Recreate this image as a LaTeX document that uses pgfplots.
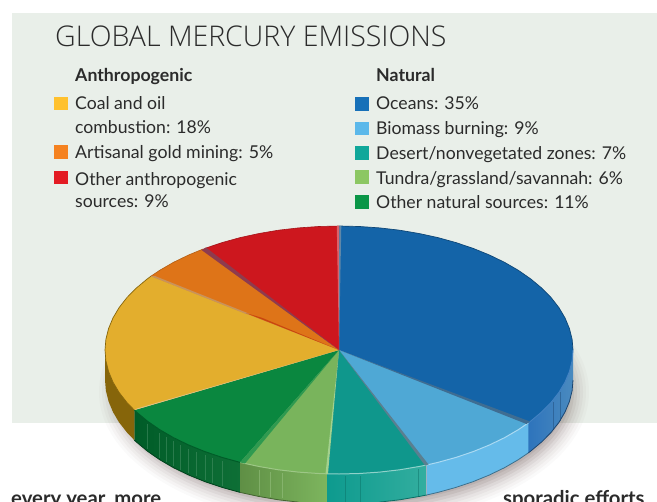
\documentclass[border=0pt]{standalone}
\usepackage{pgfplots}
\pgfplotsset{compat=1.18}
\usepackage{fontspec}
\setmainfont{Lato}
\newfontfamily\lightf{Open Sans Light}
\definecolor{panel}{HTML}{E9EFE9}
\definecolor{txt}{HTML}{2B2B2B}
\definecolor{shad}{HTML}{6E5A58}
\definecolor{wO1}{HTML}{2E74BC}\definecolor{wO2}{HTML}{4A8ABF}
\definecolor{wB}{HTML}{65BBEA}
\definecolor{wD1}{HTML}{0D9A8E}\definecolor{wD2}{HTML}{33AE9F}
\definecolor{wT1}{HTML}{5F8F45}\definecolor{wT2}{HTML}{7DB55E}
\definecolor{wN1}{HTML}{005C28}\definecolor{wN2}{HTML}{0E6F36}
\definecolor{wC}{HTML}{86650A}
\definecolor{tO}{HTML}{1464A8}\definecolor{tB}{HTML}{4FA8D5}\definecolor{tD}{HTML}{0F978C}
\definecolor{tT}{HTML}{79B45C}\definecolor{tN}{HTML}{0A873F}\definecolor{tC}{HTML}{E3AE2D}
\definecolor{tG}{HTML}{DE7418}\definecolor{tA}{HTML}{CD171E}
\definecolor{lC}{HTML}{FFC12E}\definecolor{lG}{HTML}{F58220}\definecolor{lA}{HTML}{E31B23}
\definecolor{lO}{HTML}{1770B8}\definecolor{lB}{HTML}{5BB8EA}\definecolor{lD}{HTML}{10A79A}
\definecolor{lT}{HTML}{8CC763}\definecolor{lN}{HTML}{0A9647}
\definecolor{bA}{HTML}{3F6D92}\definecolor{bB}{HTML}{5A7F90}\definecolor{bC}{HTML}{A3D18E}
\definecolor{bD}{HTML}{2F9A50}\definecolor{bE}{HTML}{DDC48E}\definecolor{bF}{HTML}{C9935A}
\definecolor{bG}{HTML}{C8460F}\definecolor{bH}{HTML}{8E3B4E}\definecolor{bI}{HTML}{D9636A}
\definecolor{bJ}{HTML}{5F87A8}\definecolor{bK}{HTML}{0E6F6A}
\newcommand{\lab}[3]{\node[anchor=base west,inner sep=0pt,text=txt,font=\fontsize{#3}{#3}\selectfont] at (axis cs:#1) {#2};}
\newcommand{\poly}[2]{\addplot[draw=none,fill=#1] coordinates {#2} --cycle;}
\newcommand{\shd}[3]{\fill[shad,opacity=#3] (axis cs:344,392) ellipse [x radius=#1,y radius=#2];}
\newcommand{\rim}[3]{\addplot[color=#1,line width=#2] coordinates {#3};}
\begin{document}
\begin{tikzpicture}
\useasboundingbox (0,0) rectangle (657bp,502bp);
\begin{axis}[at={(0,0)},anchor=south west,scale only axis,width=657bp,height=502bp,
  xmin=0,xmax=657,ymin=0,ymax=502,y dir=reverse,axis lines=none,clip=true]
% panel
\poly{panel}{(12,13)(657,13)(657,423)(12,423)}
% shadow
\shd{245}{134}{0.03}\shd{242}{131}{0.04}\shd{239}{128}{0.05}\shd{236}{125}{0.06}
\shd{233}{122}{0.08}\shd{230}{119}{0.1}\shd{227}{116}{0.12}\shd{224}{113}{0.12}
% walls
\addplot[draw=none,left color=wO1,right color=wO2] coordinates {(573,350)(572.1,360.8)(569.4,371.5)(565,382.1)(558.9,392.4)(551.1,402.4)(541.6,412)(530.7,421.1)(528.3,422.9)(528.3,452.9)(530.7,451.1)(541.6,442)(551.1,432.4)(558.9,422.4)(565,412.1)(569.4,401.5)(572.1,390.8)(573,380)} --cycle;
\poly{wB}{(528.3,422.9)(518.3,429.7)(504.5,437.7)(489.4,445)(473.2,451.6)(456,457.4)(437.9,462.4)(426.7,465)(426.7,495)(437.9,492.4)(456,487.4)(473.2,481.6)(489.4,475)(504.5,467.7)(518.3,459.7)(528.3,452.9)}
\addplot[draw=none,left color=wD1,right color=wD2] coordinates {(426.7,465)(419,466.5)(399.6,469.8)(379.6,472.1)(359.4,473.5)(339,474)(326.8,473.8)(326.8,503.8)(339,504)(359.4,503.5)(379.6,502.1)(399.6,499.8)(419,496.5)(426.7,495)} --cycle;
\addplot[draw=none,left color=wT1,right color=wT2] coordinates {(326.8,473.8)(318.6,473.5)(298.4,472.1)(278.4,469.8)(259,466.5)(240.1,462.4)(240.1,492.4)(259,496.5)(278.4,499.8)(298.4,502.1)(318.6,503.5)(326.8,503.8)} --cycle;
\addplot[draw=none,left color=wN1,right color=wN2] coordinates {(240.1,462.4)(222,457.4)(204.8,451.6)(188.6,445)(173.5,437.7)(159.7,429.7)(147.3,421.1)(136.4,412)(134.3,410.1)(134.3,440.1)(136.4,442)(147.3,451.1)(159.7,459.7)(173.5,467.7)(188.6,475)(204.8,481.6)(222,487.4)(240.1,492.4)} --cycle;
\poly{wC}{(134.3,410.1)(126.9,402.4)(119.1,392.4)(113,382.1)(108.6,371.5)(105.9,360.8)(105,350)(105,380)(105.9,390.8)(108.6,401.5)(113,412.1)(119.1,422.4)(126.9,432.4)(134.3,440.1)}
% stripes on the walls
\pgfplotsset{stripe/.style={line width=0.5pt,opacity=0.45}}
\addplot[stripe,color=wN2!70!white] coordinates {(147.3,424)(147.3,449)};
\addplot[stripe,color=wN2!70!white] coordinates {(159.7,433)(159.7,458)};
\addplot[stripe,color=wN2!70!white] coordinates {(166.5,437)(166.5,462)};
\addplot[stripe,color=wN2!70!white] coordinates {(173.5,441)(173.5,466)};
\addplot[stripe,color=wN2!70!white] coordinates {(180,445)(180,470)};
\addplot[stripe,color=wN2!70!white] coordinates {(188.6,449)(188.6,473)};
\addplot[stripe,color=wN2!70!white] coordinates {(196,452)(196,476)};
\addplot[stripe,color=wN2!70!white] coordinates {(204.8,455)(204.8,480)};
\addplot[stripe,color=wN2!70!white] coordinates {(212,458)(212,483)};
\addplot[stripe,color=wN2!70!white] coordinates {(222,461)(222,486)};
\addplot[stripe,color=wT2!70!white] coordinates {(259,470)(259,495)};
\addplot[stripe,color=wT2!70!white] coordinates {(270,472)(270,497)};
\addplot[stripe,color=wT2!70!white] coordinates {(282,473)(282,498)};
\addplot[stripe,color=wD1!70!black] coordinates {(345,476)(345,502)};
\addplot[stripe,color=wD1!70!black] coordinates {(360,476)(360,502)};
\addplot[stripe,color=wD1!70!black] coordinates {(418,469)(418,496)};
\addplot[stripe,color=wO1!60!black] coordinates {(553,402)(553,430)};
\addplot[stripe,color=wO1!60!black] coordinates {(560,392)(560,421)};
% bottom edges of the walls
\rim{wO1!60!black}{0.8pt}{(573,380)(572.1,390.8)(569.4,401.5)(565,412.1)(558.9,422.4)(551.1,432.4)(541.6,442)(530.7,451.1)(528.3,452.9)}
\rim{wB!60!black}{0.8pt}{(528.3,452.9)(518.3,459.7)(504.5,467.7)(489.4,475)(473.2,481.6)(456,487.4)(437.9,492.4)(426.7,495)}
\rim{wD1!70!black}{0.8pt}{(426.7,495)(419,496.5)(399.6,499.8)(379.6,502.1)}
\rim{wN1!70!black}{0.8pt}{(134.3,440.1)(136.4,442)(147.3,451.1)(159.7,459.7)(173.5,467.7)(188.6,475)(204.8,481.6)(222,487.4)(240.1,492.4)}
\rim{wT1!70!black}{0.8pt}{(240.1,492.4)(259,496.5)(278.4,499.8)(298.4,502.1)}
% top faces
\poly{tO}{(339,350)(339,226)(359.4,226.5)(379.6,227.9)(399.6,230.2)(419,233.5)(437.9,237.6)(456,242.6)(473.2,248.4)(489.4,255)(504.5,262.3)(518.3,270.3)(530.7,278.9)(541.6,288)(551.1,297.6)(558.9,307.6)(565,317.9)(569.4,328.5)(572.1,339.2)(573,350)(572.1,360.8)(569.4,371.5)(565,382.1)(558.9,392.4)(551.1,402.4)(541.6,412)(530.7,421.1)(528.3,422.9)}
\poly{tB}{(339,350)(528.3,422.9)(518.3,429.7)(504.5,437.7)(489.4,445)(473.2,451.6)(456,457.4)(437.9,462.4)(426.7,465)}
\poly{tD}{(339,350)(426.7,465)(419,466.5)(399.6,469.8)(379.6,472.1)(359.4,473.5)(339,474)(326.8,473.8)}
\poly{tT}{(339,350)(326.8,473.8)(318.6,473.5)(298.4,472.1)(278.4,469.8)(259,466.5)(240.1,462.4)}
\poly{tN}{(339,350)(240.1,462.4)(222,457.4)(204.8,451.6)(188.6,445)(173.5,437.7)(159.7,429.7)(147.3,421.1)(136.4,412)(134.3,410.1)}
\poly{tC}{(339,350)(134.3,410.1)(126.9,402.4)(119.1,392.4)(113,382.1)(108.6,371.5)(105.9,360.8)(105,350)(105.9,339.2)(108.6,328.5)(113,317.9)(119.1,307.6)(126.9,297.6)(136.4,288)(147.3,278.9)(150.9,276.2)}
\poly{tG}{(339,350)(150.9,276.2)(159.7,270.3)(173.5,262.3)(188.6,255)(203.1,249)}
\poly{tA}{(339,350)(203.1,249)(204.8,248.4)(222,242.6)(240.1,237.6)(259,233.5)(278.4,230.2)(298.4,227.9)(318.6,226.5)(339,226)}
% rims of the top face
\rim{wO1!90!white}{0.9pt}{(528.3,422.9)(530.7,421.1)(541.6,412)(551.1,402.4)(558.9,392.4)(565,382.1)(569.4,371.5)(572.1,360.8)(573,350)}
\rim{wB!55!white}{1pt}{(528.3,422.9)(518.3,429.7)(504.5,437.7)(489.4,445)(473.2,451.6)(456,457.4)(437.9,462.4)(426.7,465)}
\rim{wD2!55!white}{1pt}{(426.7,465)(419,466.5)(399.6,469.8)(379.6,472.1)(359.4,473.5)(339,474)(326.8,473.8)}
\rim{wT2!75!white}{1pt}{(326.8,473.8)(318.6,473.5)(298.4,472.1)(278.4,469.8)(259,466.5)(240.1,462.4)}
\rim{wN1}{1pt}{(240.1,462.4)(222,457.4)(204.8,451.6)(188.6,445)(173.5,437.7)(159.7,429.7)(147.3,421.1)(136.4,412)(134.3,410.1)}
\rim{wC}{0.7pt}{(134.3,410.1)(126.9,402.4)(119.1,392.4)(113,382.1)(108.6,371.5)(105.9,360.8)(105,350)(105.9,339.2)(108.6,328.5)(113,317.9)(119.1,307.6)(126.9,297.6)(136.4,288)(147.3,278.9)(150.9,276.2)}
\rim{tG!80!black}{0.6pt}{(150.9,276.2)(159.7,270.3)(173.5,262.3)(188.6,255)(203.1,249)}
\rim{tA!80!black}{0.6pt}{(204.8,248.4)(222,242.6)(240.1,237.6)(259,233.5)(278.4,230.2)(298.4,227.9)(318.6,226.5)(339,226)}
\rim{tO!70!black}{0.7pt}{(339,226)(359.4,226.5)(379.6,227.9)(399.6,230.2)(419,233.5)(437.9,237.6)(456,242.6)(473.2,248.4)(489.4,255)(504.5,262.3)(518.3,270.3)(530.7,278.9)(541.6,288)(551.1,297.6)(558.9,307.6)(565,317.9)(569.4,328.5)(572.1,339.2)(573,350)}
% bevels between the slices
\poly{bA}{(339,350)(530,421.5)(526.5,424)}
\poly{bB}{(339,350)(428.5,464.5)(425,465.5)}
\poly{bK}{(339,350)(327.5,473)(330,440)}
\poly{bC}{(339,350)(328,473.8)(325.5,473.8)}
\poly{bD}{(339,350)(240.1,462.4)(245,463.5)}
\poly{bE}{(339,350)(134.3,410.1)(137,408.5)}
\poly{bF}{(150.9,276.2)(155,276)(250,314)(246,314)}
\poly{bG}{(246,313)(339,350)(262,317.8)}
\poly{bH}{(339,350)(201.5,250)(206,247.5)}
\poly{bI}{(339,350)(336.8,226)(339.3,226)}
\poly{bJ}{(339,350)(339.3,226)(341.3,226)}
% legend swatches
\poly{lC}{(54,97)(68,97)(68,110)(54,110)}
\poly{lG}{(54,145)(68,145)(68,159)(54,159)}
\poly{lA}{(54,171)(68,171)(68,184)(54,184)}
\poly{lO}{(355,97)(369,97)(369,111)(355,111)}
\poly{lB}{(355,122)(369,122)(369,135)(355,135)}
\poly{lD}{(355,146)(369,146)(369,160)(355,160)}
\poly{lT}{(355,170)(369,170)(369,184)(355,184)}
\poly{lN}{(355,195)(369,195)(369,209)(355,209)}
% text
\lab{55,47}{\lightf GLOBAL MERCURY EMISSIONS}{28.6}
\lab{75,82}{\bfseries Anthropogenic}{17.8}
\lab{376,82}{\bfseries Natural}{17.8}
\lab{75,109}{Coal and oil}{17.7}
\lab{75,133}{combustion: 18\%}{17.7}
\lab{75,158}{Artisanal gold mining: 5\%}{17.8}
\lab{75,185}{Other anthropogenic}{17.7}
\lab{75,207}{sources: 9\%}{17.7}
\lab{376,109}{Oceans: 35\%}{17.7}
\lab{376,134}{Biomass burning: 9\%}{17.7}
\lab{376,159}{Desert/nonvegetated zones: 7\%}{17.7}
\lab{376,184}{Tundra/grassland/savannah: 6\%}{17.7}
\lab{376,208}{Other natural sources: 11\%}{17.7}
\lab{11,505}{\bfseries every year, more}{20.4}
\lab{503,505}{\bfseries sporadic efforts}{20.4}
\end{axis}
\end{tikzpicture}
\end{document}
